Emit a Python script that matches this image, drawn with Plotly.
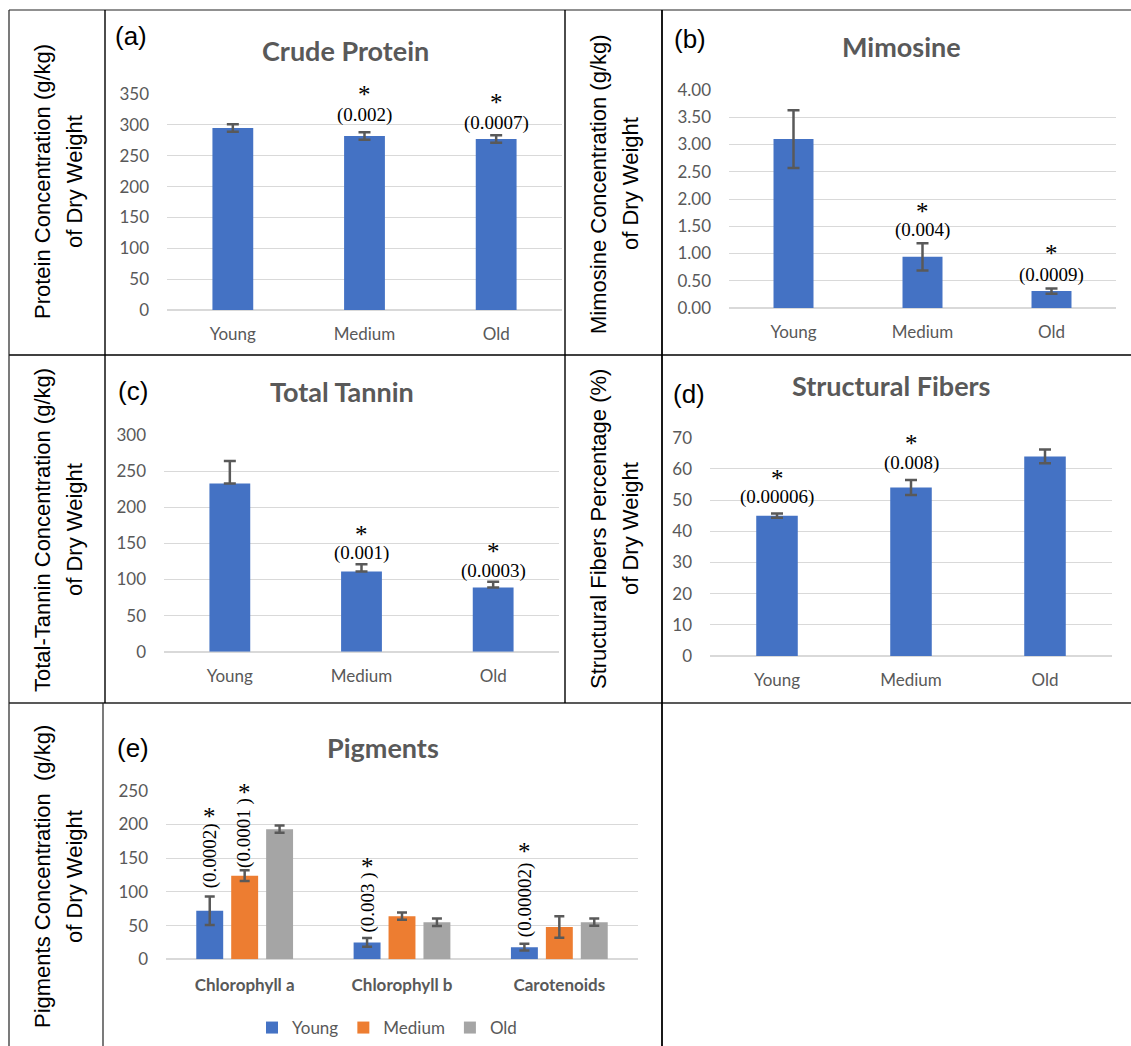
import plotly.graph_objects as go

W, H = 1131, 1046

# ---------------- data ----------------
ages = ["Young", "Medium", "Old"]

protein = [295, 282, 277]
protein_err = [6, 6, 6]
protein_p = ["", "(0.002)", "(0.0007)"]

mimosine = [3.10, 0.94, 0.31]
mimosine_err = [0.53, 0.25, 0.05]
mimosine_p = ["", "(0.004)", "(0.0009)"]

tannin = [233, 111, 89]
tannin_err_plus = [31, 10, 8]
tannin_p = ["", "(0.001)", "(0.0003)"]

fibers = [45.0, 54.0, 64.0]
fibers_err = [0.7, 2.4, 2.2]
fibers_p = ["(0.00006)", "(0.008)", ""]

pigments = ["Chlorophyll a", "Chlorophyll b", "Carotenoids"]
pig_young = [72, 25, 18]
pig_young_err = [21, 6.4, 5]
pig_young_p = ["(0.0002)", "(0.003 )", "(0.00002)"]
pig_medium = [124, 64, 48]
pig_medium_err = [8, 5.5, 16]
pig_medium_p = ["(0.0001 )", "", ""]
pig_old = [193, 55, 55]
pig_old_err = [5.5, 5.5, 5.4]
pig_old_p = ["", "", ""]

# ---------------- styles ----------------
BLUE, ORANGE, GRAY = "#4472C4", "#ED7D31", "#A5A5A5"
ERRC = "#595959"
TXT = "#595959"
GRID = "#D9D9D9"
SANS = "Lato"
SERIF = "Liberation Serif"
ARIAL = "Liberation Sans"


def px(x):
    return x / W


def py(y):
    return 1 - y / H


fig = go.Figure()

panels = [
    # name, x-domain px, y-domain px (top, bottom), range, dtick, fmt
    ("", (167, 562), (94, 310), [0, 350], 50, None),
    ("2", (729, 1116), (90, 308), [0, 4], 0.5, ".2f"),
    ("3", (164, 559), (435, 651.7), [0, 300], 50, None),
    ("4", (710, 1112), (437.7, 656), [0, 70], 10, None),
    ("5", (166, 638), (790.7, 959.3), [0, 250], 50, None),
]

layout_axes = {}
for name, (x0, x1), (yt, yb), rng, dt, fmt in panels:
    layout_axes["xaxis" + name] = dict(
        domain=[px(x0), px(x1)], anchor="y" + name, type="category",
        showgrid=False, showline=False, zeroline=False, ticks="",
        tickfont=dict(family=SANS, size=17, color=TXT,
                      weight="bold" if name == "5" else "normal"),
        ticklabelstandoff=12 if name != "5" else 14, fixedrange=True,
    )
    layout_axes["yaxis" + name] = dict(
        domain=[py(yb), py(yt)], anchor="x" + name, range=rng, dtick=dt,
        tickformat=fmt, showgrid=True, gridcolor=GRID, gridwidth=1.3,
        zeroline=True, zerolinecolor=GRID, zerolinewidth=1.5,
        showline=False, ticks="", ticklabelstandoff=17,
        tickfont=dict(family=SANS, size=17, color=TXT), fixedrange=True,
    )


def err(arr, width=6, plus_only=False):
    d = dict(type="data", array=arr, color=ERRC, thickness=2.5, width=width, visible=True)
    if plus_only:
        d.update(symmetric=False, arrayminus=[0] * len(arr))
    return d


single = [
    ("", protein, err(protein_err)),
    ("2", mimosine, err(mimosine_err)),
    ("3", tannin, err(tannin_err_plus, plus_only=True)),
    ("4", fibers, err(fibers_err)),
]
for name, vals, e in single:
    fig.add_trace(go.Bar(
        x=ages, y=vals, error_y=e, width=0.31, marker_color=BLUE,
        marker_line=dict(width=0), showlegend=False,
        xaxis="x" + name, yaxis="y" + name, hoverinfo="skip",
    ))

for lab, vals, errs, col in [
    ("Young", pig_young, pig_young_err, BLUE),
    ("Medium", pig_medium, pig_medium_err, ORANGE),
    ("Old", pig_old, pig_old_err, GRAY),
]:
    fig.add_trace(go.Bar(
        x=pigments, y=vals, name=lab, marker_color=col, marker_line=dict(width=0),
        error_y=err(errs, width=5), xaxis="x5", yaxis="y5",
        showlegend=True, hoverinfo="skip",
    ))

annotations = []

# significance labels for single-series panels
sig_sets = [
    ("", protein, protein_err, protein_p, [0, 17, 12], [0, 38, 33]),
    ("2", mimosine, mimosine_err, mimosine_p, [0, 13, 13], [0, 32, 35]),
    ("3", tannin, tannin_err_plus, tannin_p, [0, 11, 11], [0, 30, 30]),
    ("4", fibers, fibers_err, fibers_p, [16, 17, 0], [35, 37, 0]),
]
for name, vals, errs, plist, lsh, ssh in sig_sets:
    for i, p in enumerate(plist):
        if not p:
            continue
        top = vals[i] + errs[i]
        annotations.append(dict(
            x=ages[i], y=top, xref="x" + name, yref="y" + name, text=p,
            showarrow=False, yshift=lsh[i], xanchor="center", yanchor="middle",
            font=dict(family=SERIF, size=19, color="black"),
        ))
        annotations.append(dict(
            x=ages[i], y=top, xref="x" + name, yref="y" + name, text="*",
            showarrow=False, yshift=ssh[i], xanchor="center", yanchor="middle",
            font=dict(family=SERIF, size=25, color="black"),
        ))

# pigments rotated labels
bargap, bargroupgap = 0.334, 0.229
cat_px = (638 - 166) / 3
slot = cat_px * (1 - bargap) / 3
pig_sets = [
    (0, pig_young, pig_young_err, pig_young_p, [41, 35.6, 44], [80, 72, 92]),
    (1, pig_medium, pig_medium_err, pig_medium_p, [37, 0, 0], [78, 0, 0]),
    (2, pig_old, pig_old_err, pig_old_p, [0, 0, 0], [0, 0, 0]),
]
for k, vals, errs, plist, lsh, ssh in pig_sets:
    for i, p in enumerate(plist):
        if not p:
            continue
        top = vals[i] + errs[i]
        annotations.append(dict(
            x=pigments[i], y=top, xref="x5", yref="y5", text=p, textangle=-90,
            showarrow=False, yshift=lsh[i], xshift=(k - 1) * slot,
            xanchor="center", yanchor="middle",
            font=dict(family=SERIF, size=19, color="black"),
        ))
        annotations.append(dict(
            x=pigments[i], y=top, xref="x5", yref="y5", text="*",
            showarrow=False, yshift=ssh[i], xshift=(k - 1) * slot,
            xanchor="center", yanchor="middle",
            font=dict(family=SERIF, size=25, color="black"),
        ))

# titles, panel letters, y titles
titles = [
    ("Crude Protein", 345, 50, "(a)", 131, 36),
    ("Mimosine", 901, 46, "(b)", 690, 39),
    ("Total Tannin", 342, 391, "(c)", 133, 391),
    ("Structural Fibers", 891, 385, "(d)", 689, 394),
    ("Pigments", 383, 747, "(e)", 133, 748),
]
for t, tx, ty, letter, lx, ly in titles:
    annotations.append(dict(
        x=px(tx), y=py(ty), xref="paper", yref="paper", text=t, showarrow=False,
        xanchor="center", yanchor="middle",
        font=dict(family=SANS, size=27, color=TXT, weight="bold"),
    ))
    annotations.append(dict(
        x=px(lx), y=py(ly), xref="paper", yref="paper", text=letter, showarrow=False,
        xanchor="center", yanchor="middle",
        font=dict(family=ARIAL, size=26, color="black"),
    ))

ytitles = [
    ("Protein Concentration (g/kg)", 0, 182),
    ("Mimosine Concentration (g/kg)", 556, 184),
    ("Total-Tannin Concentration (g/kg)", 0, 530),
    ("Structural Fibers Percentage (%)", 556, 529),
    ("Pigments Concentration  (g/kg)", 0, 877),
]
for line1, dx, cy in ytitles:
    for txt, cx in [(line1, 42), ("of Dry Weight", 74)]:
        annotations.append(dict(
            x=px(cx + dx), y=py(cy), xref="paper", yref="paper", text=txt,
            textangle=-90, showarrow=False, xanchor="center", yanchor="middle",
            font=dict(family=ARIAL, size=22, color="black"),
        ))

# table borders
shapes = []


def line(x0, y0, x1, y1, w=1.2, c="#222"):
    shapes.append(dict(type="line", xref="paper", yref="paper",
                       x0=px(x0), y0=py(y0), x1=px(x1), y1=py(y1),
                       line=dict(color=c, width=w)))


line(9, 10, 1131, 10)
line(9, 355, 1131, 355, 1.6, "black")
line(9, 703, 1131, 703, 1.3)
line(9, 10, 9, 1046)
line(105, 10, 105, 703, 1.4, "black")
line(103, 703, 103, 1046)
line(565, 10, 565, 703, 1.4, "black")
line(662, 10, 662, 1046, 1.8, "black")

fig.update_layout(
    width=W, height=H,
    margin=dict(l=0, r=0, t=0, b=0, pad=0, autoexpand=False),
    paper_bgcolor="white", plot_bgcolor="white",
    barmode="group", bargap=bargap, bargroupgap=bargroupgap,
    annotations=annotations, shapes=shapes,
    legend=dict(orientation="h", x=px(387), xanchor="center", y=py(1028),
                yanchor="middle", font=dict(family=SANS, size=17, color=TXT),
                itemwidth=30, traceorder="normal"),
    **layout_axes,
)

fig.write_html(
    "out.html",
    config={"displayModeBar": False},
    post_script=(
        "var d=document.getElementById('{plot_id}');"
        "d.style.position='fixed';d.style.top='0px';d.style.left='0px';"
        "document.body.style.margin='0';document.body.style.overflow='hidden';"
        "document.documentElement.style.overflow='hidden';"
    ),
)
